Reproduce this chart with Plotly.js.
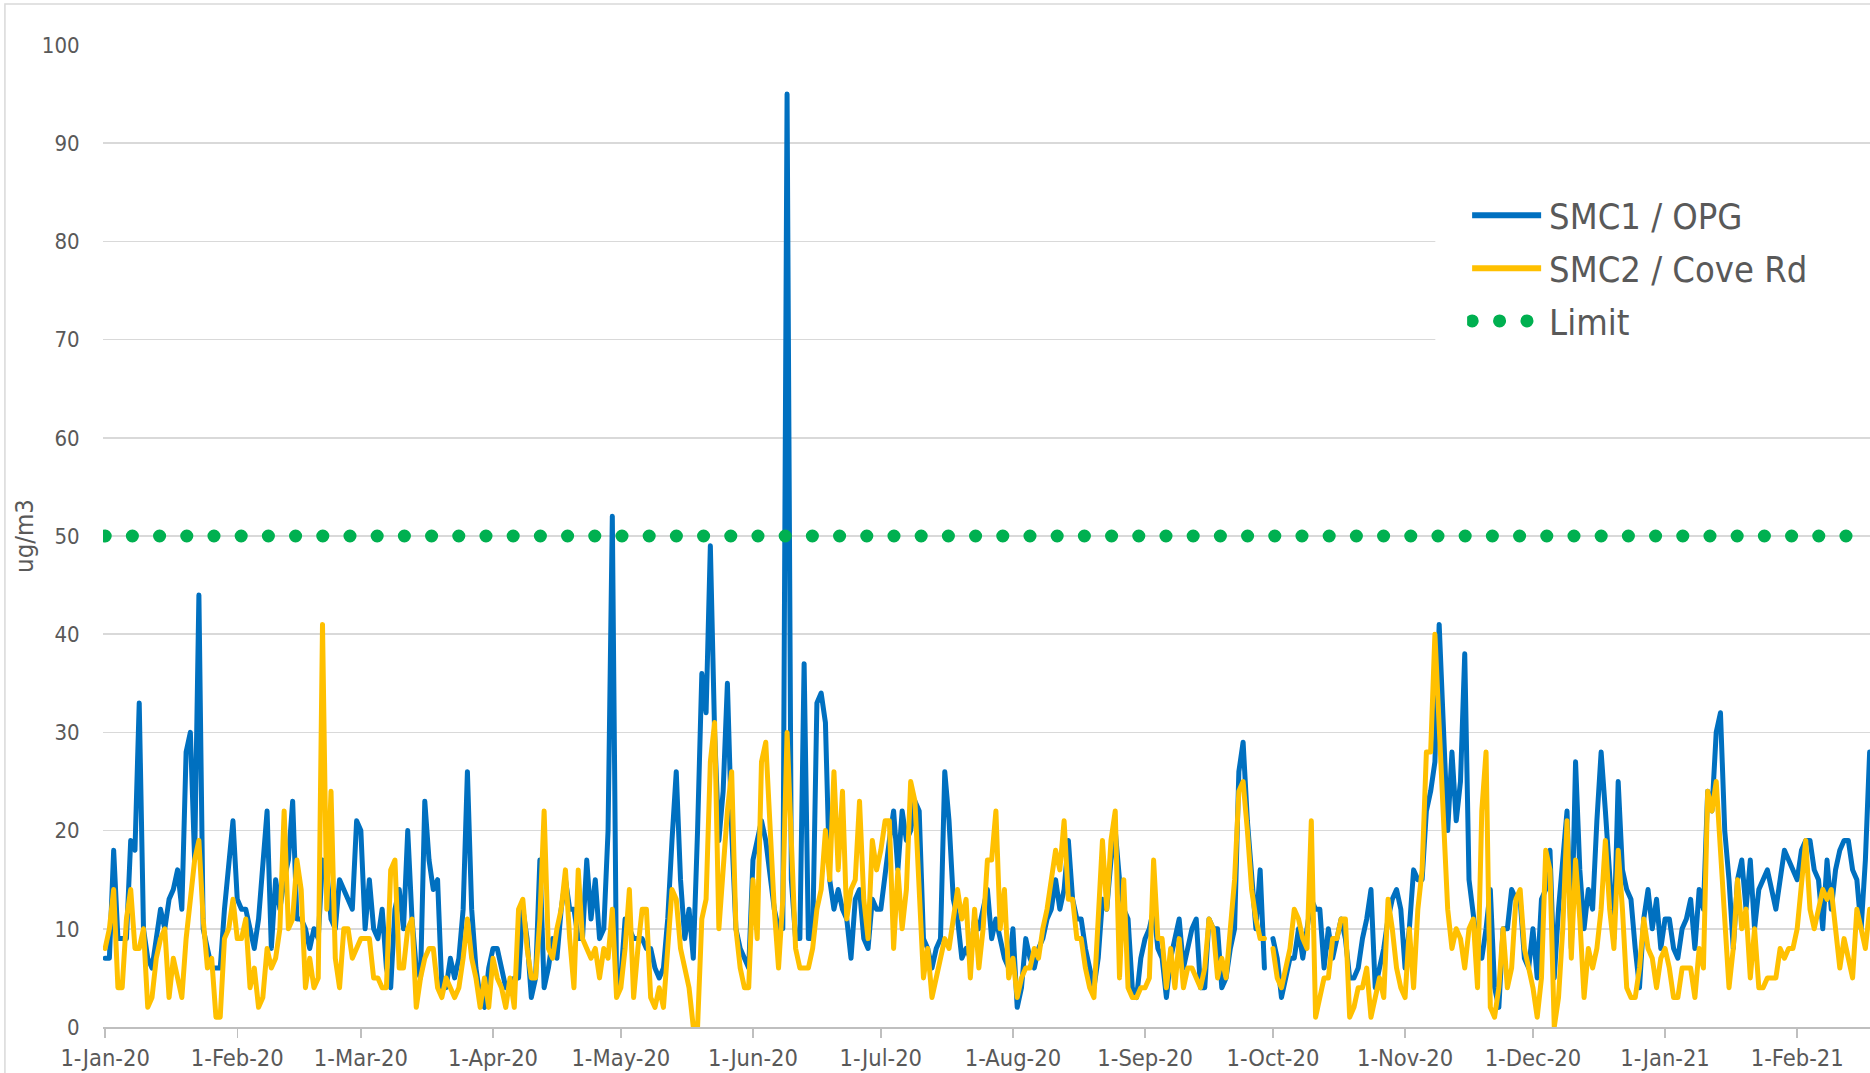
<!DOCTYPE html>
<html>
<head>
<meta charset="utf-8">
<script src="https://cdn.plot.ly/plotly-3.0.1.min.js"></script>
<style>
  html, body { margin: 0; padding: 0; background: #ffffff; }
  #chart { width: 1870px; height: 1073px; }
</style>
</head>
<body>
<div id="chart"></div>
<script>
// ---- Data (daily values, starting 1-Jan-2020) ----
const startDate = '2020-01-01';

const seriesNames = ['SMC1 / OPG', 'SMC2 / Cove Rd', 'Limit'];

const smc1 = [
  7,7,18,9,9,9,19,18,33,10,
  7,6,9,12,10,13,14,16,12,28,
  30,17,44,10,8,6,6,6,12,17,
  21,13,12,12,10,8,11,16,22,8,
  15,12,15,17,23,11,11,10,8,10,
  9,17,16,11,10,15,14,13,12,21,
  20,10,15,10,9,12,6,4,12,14,
  10,20,11,6,5,23,17,14,15,4,
  4,7,5,7,12,26,12,6,3,2,
  6,8,8,6,4,4,5,5,12,9,
  3,5,17,4,6,9,7,12,15,12,
  12,9,9,17,11,15,9,10,20,52,
  4,5,11,10,9,9,9,8,8,6,
  5,6,11,19,26,15,9,12,7,20,
  36,32,49,30,19,24,35,20,10,8,
  7,6,17,19,21,19,15,12,10,10,
  95,15,9,9,37,9,9,33,34,31,
  15,12,14,12,11,7,13,14,9,8,
  13,12,12,16,19,22,16,22,19,20,
  23,22,9,8,6,8,9,26,21,13,
  11,7,8,7,11,10,12,14,9,11,
  9,7,6,10,2,4,9,7,6,8,
  9,11,12,15,12,14,19,13,11,11,
  8,6,4,7,13,12,17,20,15,12,
  11,4,3,7,9,10,12,8,7,3,
  7,9,11,6,8,10,11,4,4,11,
  10,10,4,5,8,10,26,29,21,16,
  10,16,6,null,9,7,3,5,7,7,
  10,7,10,13,12,12,6,10,7,9,
  11,9,5,5,6,9,11,14,4,6,
  8,11,13,14,12,6,10,16,15,15,
  22,24,27,41,30,20,28,21,25,38,
  15,11,8,7,10,14,4,2,10,10,
  14,13,13,7,6,10,5,13,14,18,
  5,12,17,22,8,27,16,10,14,12,
  21,28,22,15,9,25,16,14,13,8,
  4,11,14,10,13,8,11,11,8,7,
  10,11,13,8,14,12,24,22,30,32,
  20,15,8,15,17,12,17,10,14,15,
  16,14,12,15,18,17,16,15,18,19,
  19,16,15,10,17,12,16,18,19,19,
  16,15,10,17,28
];

const smc2 = [
  8,10,14,4,4,11,14,8,8,10,
  2,3,7,9,10,3,7,5,3,9,
  13,17,19,11,6,7,1,1,9,10,
  13,9,9,11,4,6,2,3,8,6,
  7,10,22,10,11,17,14,4,7,4,
  5,41,12,24,7,4,10,10,7,8,
  9,9,9,5,5,4,4,16,17,6,
  6,10,11,2,5,7,8,8,4,3,
  5,4,3,4,7,11,7,5,2,5,
  2,7,5,4,2,5,2,12,13,8,
  5,5,11,22,8,7,10,12,16,9,
  4,16,9,8,7,8,5,8,7,12,
  3,4,8,14,3,8,12,12,3,2,
  4,2,8,14,13,8,6,4,0,0,
  11,13,27,31,10,17,22,26,10,6,
  4,4,15,9,27,29,20,12,6,13,
  30,18,8,6,6,6,8,12,14,20,
  15,26,16,24,11,14,15,23,13,9,
  19,16,18,21,21,8,16,10,14,25,
  23,15,5,8,3,5,7,9,8,11,
  14,11,13,5,12,6,10,17,17,22,
  10,14,5,7,3,5,6,6,8,7,
  10,12,15,18,16,21,13,13,9,9,
  6,4,3,10,19,12,19,22,5,15,
  4,3,3,4,4,5,17,9,9,4,
  8,4,9,4,6,6,5,4,6,11,
  10,5,7,5,10,15,24,25,20,14,
  11,9,9,null,8,5,4,6,8,12,
  11,9,8,21,1,3,5,5,9,9,
  11,11,1,2,4,4,6,1,3,5,
  3,13,10,6,4,3,10,4,12,16,
  28,28,40,30,20,12,8,10,9,6,
  10,11,4,22,28,2,1,4,10,4,
  6,13,14,8,6,4,1,5,18,16,
  0,3,10,21,7,17,11,3,8,6,
  8,12,19,12,8,18,12,4,3,3,
  6,11,8,7,4,7,8,6,3,3,
  6,6,6,3,8,6,24,22,25,18,
  10,4,8,15,10,12,5,10,4,4,
  5,5,5,8,7,8,8,10,15,19,
  12,10,12,14,13,14,10,6,9,7,
  5,12,10,8,12
];

const limitValue = 50;

// ---- Build daily date categories ----
function dailyDates(start, n) {
  const p = start.split('-').map(Number);
  const t0 = Date.UTC(p[0], p[1] - 1, p[2]);
  const out = [];
  for (let i = 0; i < n; i++) out.push(new Date(t0 + i * 86400000).toISOString().slice(0, 10));
  return out;
}
const dates = dailyDates(startDate, smc1.length);
const limitX = [dates[0], dates[dates.length - 1]];
const limitY = [limitValue, limitValue];

const FONT = '"DejaVu Sans Condensed", "DejaVu Sans", Tahoma, sans-serif';
const GREY = '#595959';

const traces = [
  { type: 'scatter', mode: 'lines', name: seriesNames[0], x: dates, y: smc1,
    line: { color: '#0070C0', width: 5 }, connectgaps: false, legendgroup: 'a', hoverinfo: 'skip' },
  { type: 'scatter', mode: 'lines', name: seriesNames[1], x: dates, y: smc2,
    line: { color: '#FFC000', width: 5 }, connectgaps: false, legendgroup: 'b', hoverinfo: 'skip' },
  { type: 'scatter', mode: 'lines', name: seriesNames[2], x: limitX, y: limitY,
    line: { color: '#00B050', width: 13, dash: '0.1px,27.1px' }, legendgroup: 'c', hoverinfo: 'skip' }
];

const layout = {
  width: 1870, height: 1073,
  margin: { l: 103, r: 0, t: 45, b: 46 },
  paper_bgcolor: '#ffffff', plot_bgcolor: '#ffffff',
  font: { family: FONT, color: GREY, size: 22 },
  showlegend: true,
  legend: {
    x: 0.772, xanchor: 'left', y: 0.857, yanchor: 'top',
    bgcolor: '#ffffff', borderwidth: 0,
    font: { family: FONT, size: 36, color: GREY },
    traceorder: 'grouped', tracegroupgap: 3,
    itemwidth: 72
  },
  xaxis: {
    type: 'date',
    range: ['2019-12-31 12:00', '2021-02-18 02:00'],
    tick0: '2020-01-01', dtick: 'M1',
    tickformat: '%-d-%b-%y',
    ticks: 'outside', ticklen: 9, tickwidth: 1.5, tickcolor: '#BFBFBF',
    showline: true, linecolor: '#BFBFBF', linewidth: 1.5,
    showgrid: false, zeroline: false,
    tickfont: { family: FONT, size: 23.5, color: GREY }
  },
  yaxis: {
    range: [0, 100], dtick: 10, tick0: 0,
    showgrid: true, gridcolor: '#D9D9D9', gridwidth: 1.5,
    zeroline: false, showline: false,
    ticks: 'outside', ticklen: 18, tickcolor: 'rgba(0,0,0,0)',
    tickfont: { family: FONT, size: 22, color: GREY },
    title: { text: 'ug/m3', font: { family: FONT, size: 25.5, color: GREY }, standoff: 0 }
  },
  shapes: [
    { type: 'rect', xref: 'paper', yref: 'paper', layer: 'above',
      x0: 0.754, x1: 1.0, y0: 0.686, y1: 0.86,
      fillcolor: '#ffffff', line: { width: 0 } },
    { type: 'rect', xref: 'paper', yref: 'paper', layer: 'above',
      x0: -0.0555, x1: 1.01, y0: -0.2, y1: 1.0418,
      fillcolor: 'rgba(0,0,0,0)', line: { color: '#D9D9D9', width: 1.5 } }
  ]
};

const gd = document.getElementById('chart');
Plotly.newPlot(gd, traces, layout, { staticPlot: true, displayModeBar: false }).then(function () {
  const tr = gd.querySelectorAll('.scatterlayer .trace');
  tr.forEach(function (t, i) {
    t.querySelectorAll('path.js-line').forEach(function (p) {
      p.style.strokeLinejoin = 'round';
      p.style.strokeLinecap = 'round';
      if (i === 2) p.style.strokeDasharray = '0.1px,27.1px';
    });
  });
  const items = gd.querySelectorAll('.legend .traces');
  items.forEach(function (it, i) {
    let ps = it.querySelectorAll('path.js-line');
    if (!ps.length) ps = it.querySelectorAll('.legendlines path');
    ps.forEach(function (p) {
      p.setAttribute('d', 'M5,0h69');
      if (i === 2) {
        p.style.strokeLinecap = 'round';
        p.style.strokeWidth = '13px';
        p.style.strokeDasharray = '0.1px,27.3px';
      } else {
        p.style.strokeLinecap = 'butt';
        p.style.strokeWidth = '6px';
      }
    });
  });
});
</script>
</body>
</html>
